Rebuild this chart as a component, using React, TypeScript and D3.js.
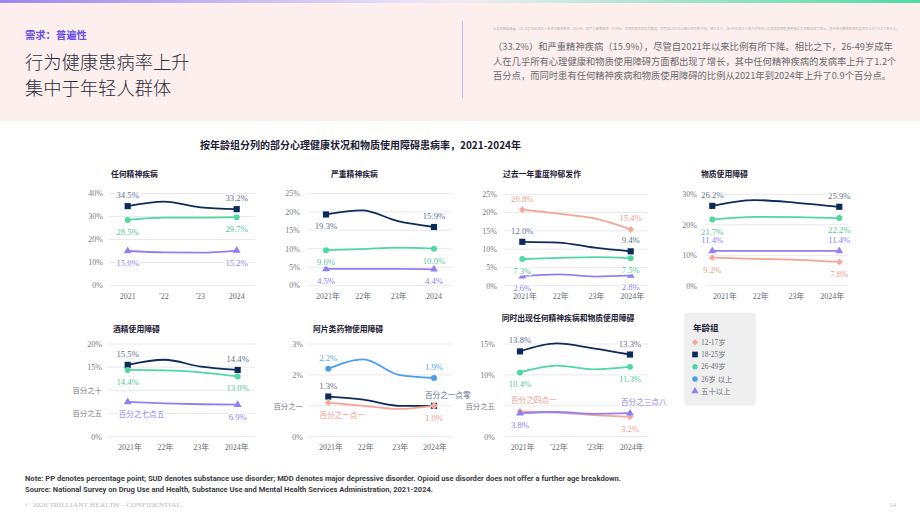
import * as d3 from 'd3';

// ---- data ----
const years = ['2021', '2022', '2023', '2024'];

type Pos = 'a' | 'b';
interface Series {
  g: string;
  v: number[];
  pos: [Pos, Pos];
  txt?: [string | null, string | null];
}

const anyMentalIllness: Series[] = [
  { g: '18-25', v: [34.5, 36.5, 34.0, 33.2], pos: ['a', 'a'] },
  { g: '26-49', v: [28.5, 29.5, 29.5, 29.7], pos: ['b', 'b'] },
  { g: '50+', v: [15.0, 14.4, 14.3, 15.2], pos: ['b', 'b'] },
];
const seriousMentalIllness: Series[] = [
  { g: '18-25', v: [19.3, 20.4, 17.5, 15.9], pos: ['b', 'a'] },
  { g: '26-49', v: [9.6, 9.9, 10.3, 10.0], pos: ['b', 'b'] },
  { g: '50+', v: [4.5, 4.5, 4.5, 4.4], pos: ['b', 'b'] },
];
const majorDepressive: Series[] = [
  { g: '12-17', v: [20.8, 19.7, 18.4, 15.4], pos: ['a', 'a'] },
  { g: '18-25', v: [12.0, 11.8, 10.4, 9.4], pos: ['a', 'a'] },
  { g: '26-49', v: [7.3, 7.6, 7.8, 7.5], pos: ['b', 'b'] },
  { g: '50+', v: [2.6, 3.1, 2.5, 2.8], pos: ['b', 'b'] },
];
const substanceUse: Series[] = [
  { g: '18-25', v: [26.2, 28.1, 27.2, 25.9], pos: ['a', 'a'] },
  { g: '26-49', v: [21.7, 22.6, 22.5, 22.2], pos: ['b', 'b'] },
  { g: '50+', v: [11.4, 11.4, 11.4, 11.4], pos: ['a', 'a'] },
  { g: '12-17', v: [9.2, 8.8, 8.5, 7.8], pos: ['b', 'b'] },
];
const alcoholUse: Series[] = [
  { g: '18-25', v: [15.5, 16.6, 15.1, 14.4], pos: ['a', 'a'] },
  { g: '26-49', v: [14.4, 14.3, 13.9, 13.0], pos: ['b', 'b'] },
  { g: '50+', v: [7.5, 7.2, 7.0, 6.9], pos: ['b', 'b'], txt: ['百分之七点五', null] },
];
const opioidUse: Series[] = [
  { g: '26+', v: [2.2, 2.5, 2.0, 1.9], pos: ['a', 'a'] },
  { g: '18-25', v: [1.3, 1.2, 1.0, 1.0], pos: ['a', 'a'], txt: [null, '百分之一点零'] },
  { g: '12-17', v: [1.1, 1.0, 0.9, 1.0], pos: ['b', 'b'], txt: ['百分之一点一', null] },
];
const coOccurring: Series[] = [
  { g: '18-25', v: [13.8, 15.1, 14.3, 13.3], pos: ['a', 'a'] },
  { g: '26-49', v: [10.4, 11.5, 10.9, 11.3], pos: ['b', 'b'] },
  { g: '12-17', v: [4.1, 3.9, 3.5, 3.2], pos: ['a', 'b'], txt: ['百分之四点一', null] },
  { g: '50+', v: [3.8, 4.0, 3.7, 3.8], pos: ['b', 'a'], txt: [null, '百分之三点八'] },
];

const ticksAMI = [0, 10, 20, 30, 40];
const ticksSMI = [0, 5, 10, 15, 20, 25];
const ticksMDE = [0, 5, 10, 15, 20, 25];
const ticksSUD = [0, 10, 20, 30];
const ticksAUD = [0, 5, 10, 15, 20];
const ticksOUD = [0, 1, 2, 3];
const ticksCO = [0, 5, 10, 15];
const tickLabelsAUD = ['0%', '百分之五', '百分之十', '15%', '20%'];
const tickLabelsOUD = ['0%', '百分之一', '2%', '3%'];
const tickLabelsCO = ['0%', '百分之五', '10%', '15%'];

const xLabelsA = ['2021', "'22", "'23", '2024'];
const xLabelsB = ['2021年', '22年', '23年', '2024'];
const xLabelsC = ['2021年', '22年', '23年', '2024年'];
const xLabelsD = ['2021年', "'22年", "'23年", '2024年'];

const diamond = (d3 as any).symbolDiamond2 ?? d3.symbolDiamond;

const groups: Record<string, { name: string; color: string; text: string; symbol: d3.SymbolType; size: number }> = {
  '12-17': { name: '12-17岁', color: '#f4a595', text: '#ee9b88', symbol: diamond, size: 30 },
  '18-25': { name: '18-25岁', color: '#0c2b5c', text: '#5d7191', symbol: d3.symbolSquare, size: 38 },
  '26-49': { name: '26-49岁', color: '#4fd8a2', text: '#57c595', symbol: d3.symbolCircle, size: 28 },
  '26+': { name: '26岁 以上', color: '#4a9ef2', text: '#5aa4ec', symbol: d3.symbolCircle, size: 28 },
  '50+': { name: '五十以上', color: '#8e80f2', text: '#8a7ff0', symbol: d3.symbolTriangle, size: 26 },
};
const legendOrder = ['12-17', '18-25', '26-49', '26+', '50+'];

// ---- layout ----
interface Panel {
  title: string;
  series: Series[];
  ticks: number[];
  tickLabels?: string[];
  xLabels: string[];
  max: number;
  titleX: number;
  titleY: number;
  titleAnchor?: 'start' | 'middle';
  dx: [number, number];
  lx: [number, number];
  py: [number, number];
  gx: [number, number];
  tickX: number;
  xLabelY: number;
}

const row1: [number, number] = [285.5, 193.5];
const row2: [number, number] = [436.7, 344];

const panels: Panel[] = [
  { title: '任何精神疾病', series: anyMentalIllness, ticks: ticksAMI, xLabels: xLabelsA, max: 40,
    titleX: 111, titleY: 177, dx: [127.7, 236.7], lx: [127.7, 236.7], py: row1, gx: [109, 255], tickX: 103, xLabelY: 299 },
  { title: '严重精神疾病', series: seriousMentalIllness, ticks: ticksSMI, xLabels: xLabelsB, max: 25,
    titleX: 331, titleY: 177, dx: [326, 434], lx: [328, 434], py: row1, gx: [308, 452], tickX: 300, xLabelY: 299 },
  { title: '过去一年重度抑郁发作', series: majorDepressive, ticks: ticksMDE, xLabels: xLabelsC, max: 25,
    titleX: 503, titleY: 177, dx: [522.3, 630.7], lx: [525, 632.3], py: [285.7, 194.3], gx: [504, 648], tickX: 497, xLabelY: 299 },
  { title: '物质使用障碍', series: substanceUse, ticks: ticksSUD, xLabels: xLabelsC, max: 30,
    titleX: 701, titleY: 177, dx: [712.3, 839.3], lx: [725, 832.3], py: [285.7, 194.3], gx: [705, 848], tickX: 697, xLabelY: 299 },
  { title: '酒精使用障碍', series: alcoholUse, ticks: ticksAUD, tickLabels: tickLabelsAUD, xLabels: xLabelsC, max: 20,
    titleX: 113, titleY: 332, dx: [127.7, 237.7], lx: [130, 236.7], py: row2, gx: [108, 255], tickX: 102, xLabelY: 450 },
  { title: '阿片类药物使用障碍', series: opioidUse, ticks: ticksOUD, tickLabels: tickLabelsOUD, xLabels: xLabelsC, max: 3,
    titleX: 313, titleY: 332, dx: [328.3, 434], lx: [331, 435], py: row2, gx: [308, 452], tickX: 303, xLabelY: 450 },
  { title: '同时出现任何精神疾病和物质使用障碍', series: coOccurring, ticks: ticksCO, tickLabels: tickLabelsCO, xLabels: xLabelsD, max: 15,
    titleX: 568, titleY: 321, titleAnchor: 'middle', dx: [520, 630], lx: [522.7, 631.7], py: row2, gx: [504, 648], tickX: 495, xLabelY: 450 },
];

const SERIF = "'Liberation Serif', 'DejaVu Serif', 'Noto Sans CJK SC', serif";
const SANS = "'Noto Sans CJK SC', 'Noto Sans', sans-serif";

const ChartPanel = ({ p }: { p: Panel }) => {
  const x = d3.scalePoint<string>().domain(years).range(p.dx);
  const xl = d3.scalePoint<string>().domain(years).range(p.lx);
  const y = d3.scaleLinear().domain([0, p.max]).range(p.py);
  const line = d3
    .line<number>()
    .x((_, i) => x(years[i]) as number)
    .y((d) => y(d))
    .curve(d3.curveMonotoneX);

  return (
    <g>
      <text x={p.titleX} y={p.titleY} textAnchor={p.titleAnchor ?? 'start'} fontFamily={SANS}
        fontWeight={700} fontSize={7.8} fill="#1c2033">{p.title}</text>
      {p.ticks.map((t, i) => (
        <g key={t}>
          <line x1={p.gx[0]} x2={p.gx[1]} y1={y(t)} y2={y(t)} stroke="#e9e9ec" strokeWidth={1} />
          <text x={p.tickX} y={y(t) + 2.8} textAnchor="end" fontFamily={SERIF}
            fontSize={p.tickLabels && /[^\x00-\x7f]/.test(p.tickLabels[i]) ? 7.4 : 8} fill="#777b84">
            {p.tickLabels ? p.tickLabels[i] : `${t}%`}
          </text>
        </g>
      ))}
      {years.map((yr, i) => (
        <text key={yr} x={xl(yr)} y={p.xLabelY} textAnchor="middle" fontFamily={SERIF} fontSize={8} fill="#666a73">
          {p.xLabels[i]}
        </text>
      ))}
      {p.series.map((s) => {
        const g = groups[s.g];
        return (
          <g key={s.g}>
            <path d={line(s.v) ?? ''} fill="none" stroke={g.color} strokeWidth={1.8} />
            {[0, 3].map((i) => (
              <path key={i} d={d3.symbol().type(g.symbol).size(g.size)() ?? ''}
                transform={`translate(${x(years[i])},${y(s.v[i])})`} fill={g.color}
                stroke={s.g === '12-17' ? '#fbd3c9' : 'none'} strokeWidth={0.8} />
            ))}
          </g>
        );
      })}
      {p.series.map((s) => {
        const g = groups[s.g];
        return [0, 3].map((i, k) => {
          const custom = s.txt ? s.txt[k] : null;
          const px = x(years[i]) as number;
          const py = y(s.v[i]) + (s.pos[k] === 'a' ? -8 : 15);
          return (
            <text key={`${s.g}-${i}`} x={custom ? px - 9 : px} y={py} textAnchor={custom ? 'start' : 'middle'}
              fontFamily={SERIF} fontSize={custom ? 7.6 : 8.7} fill={g.text}
              stroke="#ffffff" strokeWidth={3} paintOrder="stroke" strokeLinejoin="round">
              {custom ?? `${s.v[i].toFixed(1)}%`}
            </text>
          );
        });
      })}
    </g>
  );
};

const paragraph = [
  '（33.2%）和严重精神疾病（15.9%），尽管自2021年以来比例有所下降。相比之下，26-49岁成年',
  '人在几乎所有心理健康和物质使用障碍方面都出现了增长，其中任何精神疾病的发病率上升了1.2个',
  '百分点，而同时患有任何精神疾病和物质使用障碍的比例从2021年到2024年上升了0.9个百分点。',
];

const App = () => (
  <div style={{ position: 'absolute', left: 0, top: 0 }}>
    <svg width={920} height={518} style={{ display: 'block', background: '#ffffff' }}>
      <defs>
        <linearGradient id="topbar" x1="0" x2="1" y1="0" y2="0">
          <stop offset="0" stopColor="#9a87f0" />
          <stop offset="0.5" stopColor="#f3ebf4" />
          <stop offset="1" stopColor="#4edba5" />
        </linearGradient>
      </defs>

      {/* header */}
      <rect x={0} y={0} width={920} height={121} fill="#fcefed" />
      <rect x={0} y={0} width={920} height={3} fill="url(#topbar)" />
      <text x={25} y={39} fontFamily={SANS} fontWeight={700} fontSize={10.3} fill="#6a4ee8">需求：普遍性</text>
      <text x={25} y={69} fontFamily={SANS} fontWeight={300} fontSize={18.3} fill="#2b2d3b">行为健康患病率上升</text>
      <text x={25} y={95} fontFamily={SANS} fontWeight={300} fontSize={18.3} fill="#2b2d3b">集中于年轻人群体</text>
      <line x1={462.5} x2={462.5} y1={21} y2={98} stroke="#c6b6f6" strokeWidth={1} />
      <text x={493} y={30} fontFamily={SANS} fontSize={3} fill="#b9b4b8" textLength={406} lengthAdjust="spacingAndGlyphs">
        从总体数据来看，18-25岁年轻成年人在任何精神疾病（33.2%）和严重精神疾病（15.9%）方面的患病率仍然最高，尽管自2021年以来比例有所下降。相比之下，26-49岁成年人在几乎所有心理健康和物质使用障碍方面都出现了增长，其中任何精神疾病的发病率上升了1.2个百分点。
      </text>
      {paragraph.map((t, i) => (
        <text key={i} x={493} y={50 + i * 14.5} fontFamily={SANS} fontSize={9.3} fill="#6b6b70">{t}</text>
      ))}

      {/* chart title */}
      <text x={360.5} y={149} textAnchor="middle" fontFamily={SANS} fontWeight={700} fontSize={10} fill="#1c2033">
        按年龄组分列的部分心理健康状况和物质使用障碍患病率，2021-2024年
      </text>

      {panels.map((p) => (
        <ChartPanel key={p.title} p={p} />
      ))}

      {/* legend */}
      <rect x={684} y={312.5} width={72} height={93} rx={4} fill="#efefef" />
      <text x={693} y={331} fontFamily={SANS} fontWeight={700} fontSize={8.5} fill="#1c2033">年龄组</text>
      {legendOrder.map((k, i) => {
        const g = groups[k];
        const cy = 342.3 + i * 12.2;
        return (
          <g key={k}>
            <path d={d3.symbol().type(g.symbol).size(g.size * 0.85)() ?? ''} transform={`translate(${695},${cy})`} fill={g.color} />
            <text x={701} y={cy + 2.6} fontFamily={SERIF} fontSize={7.4} fill="#6b6e76">{g.name}</text>
          </g>
        );
      })}

      {/* footer */}
      <text x={25} y={481} fontFamily="'Liberation Sans Narrow', 'Roboto', sans-serif" fontWeight={700} fontSize={7}
        fill="#3a3d45" textLength={596} lengthAdjust="spacingAndGlyphs">
        Note: PP denotes percentage point; SUD denotes substance use disorder; MDD denotes major depressive disorder. Opioid use disorder does not offer a further age breakdown.
      </text>
      <text x={25} y={491.5} fontFamily="'Liberation Sans Narrow', 'Roboto', sans-serif" fontWeight={700} fontSize={7}
        fill="#3a3d45" textLength={408} lengthAdjust="spacingAndGlyphs">
        Source: National Survey on Drug Use and Health, Substance Use and Mental Health Services Administration, 2021-2024.
      </text>
      <text x={25} y={507} fontFamily={SERIF} fontSize={6.4} fill="#b8bac0" textLength={156} lengthAdjust="spacingAndGlyphs">
        © 2026 TRILLIANT HEALTH – CONFIDENTIAL
      </text>
      <text x={896} y={507} textAnchor="end" fontFamily={SERIF} fontSize={6.4} fill="#b8bac0">14</text>
    </svg>
  </div>
);

export default App;
